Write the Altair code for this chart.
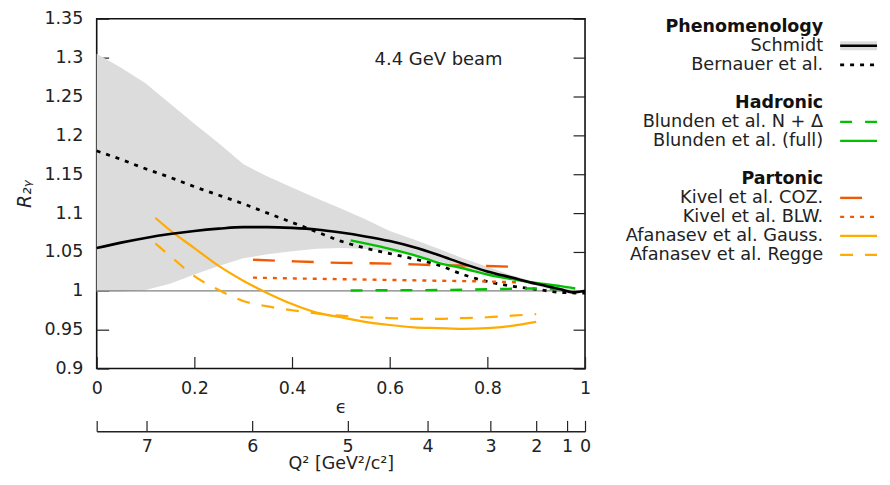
import altair as alt
import pandas as pd

# ---------------- data ----------------
band_eps = [0.0, 0.05, 0.1, 0.15, 0.2, 0.25, 0.3, 0.35, 0.4, 0.45, 0.5,
            0.55, 0.6, 0.65, 0.7, 0.75, 0.8, 0.85, 0.9, 0.95, 1.0]
band_hi = [1.305, 1.287, 1.267, 1.241, 1.215, 1.190, 1.163, 1.147, 1.133, 1.119, 1.106,
           1.092, 1.077, 1.066, 1.054, 1.042, 1.031, 1.020, 1.011, 1.004, 1.000]
band_lo = [0.999, 0.999, 1.001, 1.009, 1.021, 1.032, 1.042, 1.047, 1.051, 1.054, 1.055,
           1.054, 1.050, 1.045, 1.038, 1.030, 1.022, 1.014, 1.007, 0.998, 0.999]

schmidt_eps = [0.0, 0.05, 0.1, 0.15, 0.2, 0.25, 0.3, 0.35, 0.4, 0.45, 0.5,
               0.55, 0.6, 0.65, 0.7, 0.75, 0.8, 0.85, 0.9, 0.95, 0.975, 1.0]
schmidt_r = [1.055, 1.062, 1.068, 1.073, 1.077, 1.080, 1.082, 1.082, 1.081, 1.079, 1.075,
             1.070, 1.064, 1.056, 1.046, 1.035, 1.025, 1.017, 1.009, 1.002, 0.998, 1.000]

bernauer_eps = [0.0, 0.05, 0.1, 0.15, 0.2, 0.25, 0.3, 0.35, 0.4, 0.45, 0.5,
                0.55, 0.6, 0.65, 0.7, 0.75, 0.8, 0.85, 0.9, 0.95, 1.0]
bernauer_r = [1.180, 1.169, 1.157, 1.146, 1.134, 1.123, 1.112, 1.100, 1.088, 1.076, 1.064,
              1.055, 1.048, 1.041, 1.033, 1.021, 1.012, 1.006, 1.002, 0.998, 0.997]

blunden_full_eps = [0.52, 0.55, 0.6, 0.65, 0.7, 0.75, 0.8, 0.85, 0.9, 0.95, 0.98]
blunden_full_r = [1.065, 1.061, 1.054, 1.046, 1.036, 1.029, 1.021, 1.015, 1.010, 1.006, 1.003]

blunden_nd_eps = [0.52, 0.6, 0.7, 0.8, 0.9, 0.95]
blunden_nd_r = [1.0005, 1.0008, 1.001, 1.002, 1.003, 1.002]

kivel_eps = [0.32, 0.4, 0.5, 0.6, 0.7, 0.8, 0.85]
kivel_coz_r = [1.040, 1.038, 1.036, 1.035, 1.033, 1.032, 1.031]
kivel_blw_eps = [0.32, 0.4, 0.5, 0.6, 0.7, 0.8, 0.86]
kivel_blw_r = [1.017, 1.016, 1.015, 1.014, 1.013, 1.012, 1.011]

afan_eps = [0.12, 0.15, 0.2, 0.25, 0.3, 0.35, 0.4, 0.45, 0.5, 0.55, 0.6,
            0.65, 0.7, 0.75, 0.8, 0.85, 0.9]
gauss_r = [1.094, 1.078, 1.055, 1.032, 1.013, 0.997, 0.983, 0.972, 0.966, 0.960, 0.956,
           0.953, 0.952, 0.951, 0.952, 0.955, 0.960]
regge_r = [1.061, 1.045, 1.019, 1.001, 0.987, 0.980, 0.975, 0.971, 0.968, 0.966, 0.965,
           0.964, 0.964, 0.965, 0.966, 0.968, 0.970]

eps_ticks = [0, 0.2, 0.4, 0.6, 0.8, 1.0]
r_ticks = [0.9, 0.95, 1.0, 1.05, 1.1, 1.15, 1.2, 1.25, 1.3, 1.35]
q2_values = [7, 6, 5, 4, 3, 2, 1, 0]
q2_labels = ["7", "6", "5", "4", "3", "2", "1", "0"]

annotation = ["4.4 GeV beam"]

# ---------------- kinematics for the secondary Q^2 axis ----------------
M_P = 0.938272
E_BEAM = 4.4


def eps_of_q2(q2):
    nu = q2 / (2 * M_P)
    e_out = E_BEAM - nu
    s2 = q2 / (4 * E_BEAM * e_out)
    t2 = s2 / (1 - s2)
    tau = q2 / (4 * M_P * M_P)
    return 1.0 / (1.0 + 2.0 * (1.0 + tau) * t2)


q2_tick_eps = [round(eps_of_q2(q), 5) for q in q2_values]
q2_axis_vals = [0.0] + q2_tick_eps
label_expr = "''"
for e, lab in zip(reversed(q2_tick_eps), reversed(q2_labels)):
    label_expr = f"abs(datum.value - {e}) < 0.0005 ? '{lab}' : ({label_expr})"

# ---------------- styling ----------------
FONT = "DejaVu Sans"
TXT = "#222222"
FS = 17.5
BLACK = "#000000"
GREEN = "#00c000"
RED_OR = "#f05a05"
ORANGE = "#ffab00"

styles = {
    "Schmidt": dict(color=BLACK, strokeWidth=2.6),
    "Bernauer et al.": dict(color=BLACK, strokeWidth=2.8, strokeDash=[4, 6]),
    "Blunden et al. N + Δ": dict(color=GREEN, strokeWidth=2.4, strokeDash=[12, 13]),
    "Blunden et al. (full)": dict(color=GREEN, strokeWidth=2.4),
    "Kivel et al. COZ.": dict(color=RED_OR, strokeWidth=2.4, strokeDash=[22, 17]),
    "Kivel et al. BLW.": dict(color=RED_OR, strokeWidth=2.4, strokeDash=[4, 6]),
    "Afanasev et al. Gauss.": dict(color=ORANGE, strokeWidth=2.2),
    "Afanasev et al. Regge": dict(color=ORANGE, strokeWidth=2.2, strokeDash=[13, 12]),
}

series = [
    ("Bernauer et al.", bernauer_eps, bernauer_r),
    ("Blunden et al. N + Δ", blunden_nd_eps, blunden_nd_r),
    ("Kivel et al. COZ.", kivel_eps, kivel_coz_r),
    ("Kivel et al. BLW.", kivel_blw_eps, kivel_blw_r),
    ("Afanasev et al. Regge", afan_eps, regge_r),
    ("Afanasev et al. Gauss.", afan_eps, gauss_r),
    ("Blunden et al. (full)", blunden_full_eps, blunden_full_r),
    ("Schmidt", schmidt_eps, schmidt_r),
]

W, H = 490, 351
xs = alt.Scale(domain=[0, 1], nice=False, zero=False)
ys = alt.Scale(domain=[0.9, 1.35], nice=False, zero=False)

common_axis = dict(labelFont=FONT, titleFont=FONT, labelColor=TXT, titleColor=TXT,
                   tickColor=TXT, tickWidth=1.2, labelFontSize=FS,
                   titleFontWeight="normal", grid=False, labelOverlap=False)

eps_axis = alt.Axis(orient="bottom", offset=-12, tickSize=12, values=eps_ticks, format="~g",
                    labelFlush=False, domain=False, title="ϵ", labelPadding=11,
                    titlePadding=2, titleFontSize=18, **common_axis)
left_axis = alt.Axis(orient="left", offset=-12, tickSize=12, values=r_ticks, format="~g",
                     domain=False, title="R₂ᵧ", labelPadding=14, titlePadding=9,
                     titleFontStyle="italic", titleFontSize=19, **common_axis)
right_axis = alt.Axis(orient="right", offset=-12, tickSize=12, values=r_ticks,
                      labels=False, domain=False, title="", titleFontSize=18, **common_axis)
q2_axis = alt.Axis(orient="bottom", offset=52, tickSize=11, values=q2_axis_vals,
                   labelExpr=label_expr, labelFlush=False, domain=False,
                   title="Q² [GeV²/c²]", labelPadding=6, titlePadding=0,
                   titleFontSize=17.5, **common_axis)
q2_line_axis = alt.Axis(orient="bottom", offset=63, ticks=False, labels=False,
                        domain=True, domainColor=TXT, domainWidth=1.5, title="",
                        grid=False)

band_df = pd.DataFrame({"eps": band_eps, "lo": band_lo, "hi": band_hi})
band = alt.Chart(band_df).mark_area(color="#dcdcdc", interpolate="linear").encode(
    x=alt.X("eps:Q", scale=xs, axis=eps_axis),
    y=alt.Y("lo:Q", scale=ys, axis=left_axis),
    y2="hi:Q",
)

zero = alt.Chart(pd.DataFrame({"r": [1.0]})).mark_rule(color="#808080", strokeWidth=1.2).encode(
    y=alt.Y("r:Q", scale=ys, axis=right_axis)
)

layers = [band, zero]
for name, ex, ry in series:
    df = pd.DataFrame({"eps": ex, "r": ry})
    layers.append(
        alt.Chart(df).mark_line(interpolate="monotone", **styles[name]).encode(
            x=alt.X("eps:Q", scale=xs, axis=None),
            y=alt.Y("r:Q", scale=ys, axis=None),
        )
    )

annot_df = pd.DataFrame({"eps": [0.70], "r": [1.2974], "t": annotation})
layers.append(
    alt.Chart(annot_df).mark_text(font=FONT, fontSize=18, color=TXT, align="center",
                                  baseline="middle").encode(
        x=alt.X("eps:Q", scale=xs, axis=None),
        y=alt.Y("r:Q", scale=ys, axis=None),
        text="t:N",
    )
)

q2_df = pd.DataFrame({"eps": q2_axis_vals})
layers.append(
    alt.Chart(q2_df).mark_point(opacity=0).encode(x=alt.X("eps:Q", scale=xs, axis=q2_axis))
)
layers.append(
    alt.Chart(q2_df).mark_point(opacity=0).encode(x=alt.X("eps:Q", scale=xs, axis=q2_line_axis))
)

main = alt.layer(*layers).resolve_axis(x="independent", y="independent").properties(
    width=W, height=H, view=alt.ViewBackground(stroke="#111111", strokeWidth=1.6)
)

# ---------------- legend ----------------
LEG_W = 288
TEXT_X = 234
SW_X0, SW_X1 = 251, 288
ROW_TOP = -0.42
ROW_BOTTOM = ROW_TOP + H / 19.08
lxs = alt.Scale(domain=[0, LEG_W], nice=False, zero=False)
lys = alt.Scale(domain=[ROW_TOP, ROW_BOTTOM], nice=False, zero=False, reverse=True)

group_titles = ["Phenomenology", "Hadronic", "Partonic"]
group_rows = [0, 4, 8]
entry_names = ["Schmidt", "Bernauer et al.", "Blunden et al. N + Δ", "Blunden et al. (full)",
               "Kivel et al. COZ.", "Kivel et al. BLW.", "Afanasev et al. Gauss.",
               "Afanasev et al. Regge"]
entry_rows = [1, 2, 5, 6, 9, 10, 11, 12]

gt_df = pd.DataFrame({"x": [TEXT_X] * 3, "row": group_rows, "t": group_titles})
en_df = pd.DataFrame({"x": [TEXT_X] * len(entry_names), "row": entry_rows, "t": entry_names})

leg_layers = [
    alt.Chart(gt_df).mark_text(font=FONT, fontSize=17.5, fontWeight="bold", color="#111111",
                               align="right", baseline="middle").encode(
        x=alt.X("x:Q", scale=lxs, axis=None), y=alt.Y("row:Q", scale=lys, axis=None), text="t:N"),
    alt.Chart(en_df).mark_text(font=FONT, fontSize=17.8, color=TXT,
                               align="right", baseline="middle").encode(
        x=alt.X("x:Q", scale=lxs, axis=None), y=alt.Y("row:Q", scale=lys, axis=None), text="t:N"),
]

for name, row in zip(entry_names, entry_rows):
    sdf = pd.DataFrame({"x": [SW_X0], "x2": [SW_X1], "row": [row]})
    if name == "Schmidt":
        leg_layers.append(
            alt.Chart(sdf).mark_rule(color="#dcdcdc", strokeWidth=9, strokeCap="butt").encode(
                x=alt.X("x:Q", scale=lxs, axis=None), x2="x2:Q",
                y=alt.Y("row:Q", scale=lys, axis=None))
        )
    leg_layers.append(
        alt.Chart(sdf).mark_rule(strokeCap="butt", **styles[name]).encode(
            x=alt.X("x:Q", scale=lxs, axis=None), x2="x2:Q",
            y=alt.Y("row:Q", scale=lys, axis=None))
    )

legend = alt.layer(*leg_layers).properties(
    width=LEG_W, height=H, view=alt.ViewBackground(strokeOpacity=0)
)

chart = alt.hconcat(main, legend, spacing=5, bounds="flush").properties(
    padding={"left": 7, "top": 0, "right": 0, "bottom": 0}
).configure(font=FONT)

chart.save("out.html", embed_options={"renderer": "svg", "actions": False})
